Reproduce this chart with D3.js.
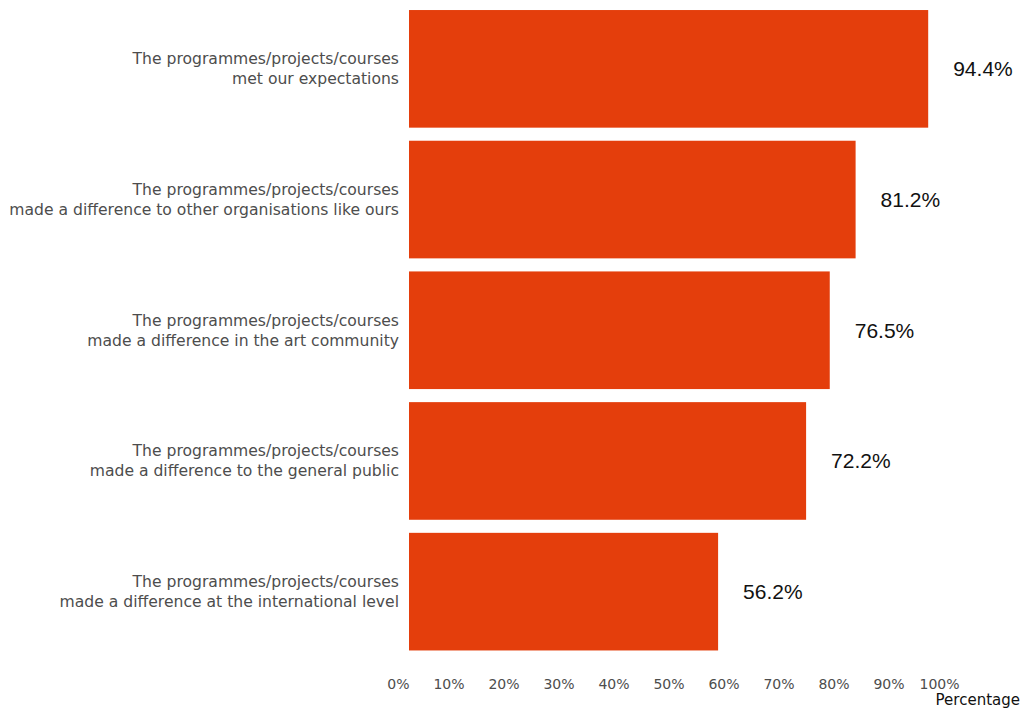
<!DOCTYPE html>
<html>
<head>
<meta charset="utf-8">
<script src="https://cdn.jsdelivr.net/npm/d3@7"></script>
<style>
  body { margin: 0; background: #fff; }
</style>
</head>
<body>
<div id="chart"></div>
<script>
// statements, top to bottom as drawn
var statements = [
    ["The programmes/projects/courses", "met our expectations"],
    ["The programmes/projects/courses", "made a difference to other organisations like ours"],
    ["The programmes/projects/courses", "made a difference in the art community"],
    ["The programmes/projects/courses", "made a difference to the general public"],
    ["The programmes/projects/courses", "made a difference at the international level"]
];
var percentages = [94.4, 81.2, 76.5, 72.2, 56.2];
var tickValues = [0, 10, 20, 30, 40, 50, 60, 70, 80, 90, 100];

var width = 1022, height = 710;
var barColor = "#e43e0c";
var labelFont = "'DejaVu Sans', sans-serif";

var svg = d3.select("#chart").append("svg")
    .attr("width", width)
    .attr("height", height);

var rows = statements.map(function(s, i) { return { id: i, lines: s, value: percentages[i] }; });

var x = d3.scaleLinear().domain([0, 100]).range([409, 959]);
var y = d3.scaleBand()
    .domain(rows.map(function(d) { return d.id; }))
    .range([3.5, 657])
    .paddingInner(0.1)
    .paddingOuter(0.05);

// bars
svg.selectAll(".bar")
    .data(rows)
    .enter().append("rect")
    .attr("class", "bar")
    .attr("x", x(0))
    .attr("y", function(d) { return y(d.id); })
    .attr("width", function(d) { return x(d.value) - x(0); })
    .attr("height", y.bandwidth())
    .attr("fill", barColor);

// value labels to the right of each bar
svg.selectAll(".value")
    .data(rows)
    .enter().append("text")
    .attr("class", "value")
    .attr("x", function(d) { return x(d.value) + 25; })
    .attr("y", function(d) { return y(d.id) + y.bandwidth() / 2; })
    .attr("dy", "0.35em")
    .attr("font-family", "'Liberation Sans', Arial, sans-serif")
    .attr("font-size", "21px")
    .attr("fill", "#111")
    .text(function(d) { return d.value.toFixed(1) + "%"; });

// category labels (two lines, right aligned)
var cat = svg.selectAll(".cat")
    .data(rows)
    .enter().append("text")
    .attr("class", "cat")
    .attr("text-anchor", "end")
    .attr("font-family", labelFont)
    .attr("font-size", "15.6px")
    .attr("fill", "#4d4d4d");
cat.each(function(d) {
    var t = d3.select(this);
    var cy = y(d.id) + y.bandwidth() / 2;
    d.lines.forEach(function(line, j) {
        t.append("tspan")
            .attr("x", 399)
            .attr("y", cy - 10 + j * 20)
            .attr("dy", "0.35em")
            .text(line);
    });
});

// x axis, labels end-aligned at the tick
var xAxis = svg.append("g")
    .attr("transform", "translate(0,676)")
    .call(d3.axisBottom(x).tickValues(tickValues).tickSize(0).tickFormat(function(d) { return d + "%"; }));
xAxis.select(".domain").remove();
xAxis.selectAll("text")
    .attr("text-anchor", "end")
    .attr("font-family", labelFont)
    .attr("font-size", "14px")
    .attr("fill", "#4d4d4d");

svg.append("text")
    .attr("x", 1020)
    .attr("y", 705)
    .attr("text-anchor", "end")
    .attr("font-family", labelFont)
    .attr("font-size", "15px")
    .attr("fill", "#111")
    .text("Percentage");
</script>
</body>
</html>
